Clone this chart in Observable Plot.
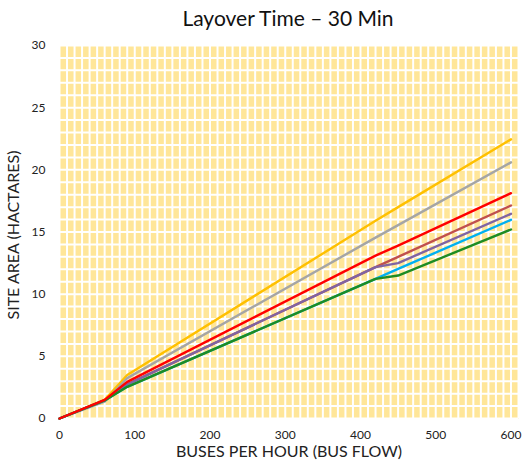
<!DOCTYPE html>
<html>
<head>
<meta charset="utf-8">
<script src="https://cdn.jsdelivr.net/npm/d3@7"></script>
<script src="https://cdn.jsdelivr.net/npm/@observablehq/plot@0.6"></script>
<style>
  body { margin: 0; background: #fff; font-family: Lato, "Open Sans", sans-serif; }
  #title { height: 30px; line-height: 36px; font-size: 21px; color: #111; text-align: center; padding-left: 54px; box-sizing: border-box; width: 522px; }
</style>
</head>
<body>
<div id="title">Layover Time – 30 Min</div>
<div id="chart"></div>
<script>
const busFlow = [0, 60, 90, 420, 450, 600];
const seriesNames = ["Scenario 1", "Scenario 2", "Scenario 3", "Scenario 4", "Scenario 5", "Scenario 6", "Scenario 7"];
const seriesColors = ["#FFC000", "#A5A5A5", "#C0504D", "#8064A2", "#00B0F0", "#1E8C23", "#FF0000"];
const yellowArea = [0, 1.5, 3.5, 15.9, 17.0, 22.45];
const grayArea   = [0, 1.35, 3.25, 14.55, 15.55, 20.6];
const brownArea  = [0, 1.45, 2.75, 12.17, 13.0, 17.13];
const purpleArea = [0, 1.45, 2.75, 12.17, 12.5, 16.46];
const blueArea   = [0, 1.45, 2.55, 11.23, 12.03, 15.98];
const greenArea  = [0, 1.45, 2.55, 11.23, 11.5, 15.2];
const redArea    = [0, 1.5, 2.95, 13.1, 13.9, 18.12];
const xTicks = [0, 100, 200, 300, 400, 500, 600];
const yTicks = [0, 5, 10, 15, 20, 25, 30];

const allSeries = [yellowArea, grayArea, brownArea, purpleArea, blueArea, greenArea, redArea];
const rows = [];
allSeries.forEach((vals, i) => {
  vals.forEach((v, j) => rows.push({series: seriesNames[i], x: busFlow[j], y: v}));
});

const chart = Plot.plot({
  width: 522,
  height: 436,
  marginLeft: 59,
  marginRight: 4,
  marginTop: 15,
  marginBottom: 48,
  style: {fontFamily: "Lato, 'Open Sans', sans-serif", fontSize: "12px", color: "#222", background: "transparent"},
  x: {domain: [0, 610]},
  y: {domain: [0, 30]},
  color: {domain: seriesNames, range: seriesColors},
  marks: [
    Plot.frame({fill: "#FFE699", stroke: null}),
    Plot.ruleX(d3.range(0, 611, 10), {stroke: "white", strokeWidth: 2}),
    Plot.ruleY(d3.range(0, 31, 1), {stroke: "white", strokeWidth: 2}),
    Plot.axisX(xTicks, {tickSize: 0, tickPadding: 12, fontSize: 12, label: null}),
    Plot.axisY(yTicks, {tickSize: 0, tickPadding: 14, fontSize: 12, label: null}),
    Plot.line(rows, {x: "x", y: "y", z: "series", stroke: "series", strokeWidth: 2.4})
  ]
});
const ns = "http://www.w3.org/2000/svg";
function addLabel(text, x, y, rotate) {
  const t = document.createElementNS(ns, "text");
  t.textContent = text;
  t.setAttribute("text-anchor", "middle");
  t.setAttribute("dominant-baseline", "middle");
  t.setAttribute("font-size", "16");
  t.setAttribute("fill", "#222");
  t.setAttribute("transform", rotate ? `translate(${x},${y}) rotate(-90)` : `translate(${x},${y})`);
  chart.appendChild(t);
}
addLabel("BUSES PER HOUR (BUS FLOW)", 289, 423, false);
addLabel("SITE AREA (HACTARES)", 15, 205, true);
document.getElementById("chart").appendChild(chart);
</script>
</body>
</html>
